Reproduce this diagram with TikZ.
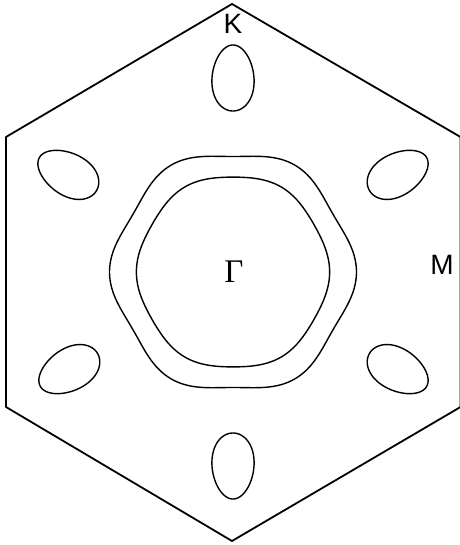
\documentclass[tikz,border=0pt]{standalone}
\usepackage{fontspec}
\newfontfamily\lsans{Liberation Sans}
\newfontfamily\lserif{Liberation Serif}
\begin{document}
\begin{tikzpicture}[x=1pt,y=-1pt,line join=round]
\tikzset{
  bz/.style={line width=1.8pt},
  fs/.style={line width=1.4pt},
  lbl/.style={inner sep=0pt,font=\lsans\fontsize{28}{28}\selectfont},
  glbl/.style={inner sep=0pt,font=\lserif\fontsize{33}{33}\selectfont}
}
\useasboundingbox (0,0) rectangle (459,545);
% Brillouin zone
\draw[bz] (232,4) -- (460.5,137) -- (460.5,407) -- (232,541) -- (6,407) -- (6,137) -- cycle;
% inner Fermi surface
\draw[fs] plot[domain=0:360,samples=240,smooth]
  ({233+0.985*(96.5+1.6*cos(6*\x))*cos(\x)},{272-(96.5+1.6*cos(6*\x))*sin(\x)}) -- cycle;
% outer Fermi surface
\draw[fs] plot[domain=0:360,samples=240,smooth]
  ({233+(119.5+4*cos(6*\x))*cos(\x)},{272-(119.5+4*cos(6*\x))*sin(\x)}) -- cycle;
% pockets
\foreach \cx/\cy/\ph in {233/78/90,233/466/-90,68/174/30,398/174/150,69/370/-30,398/370/210}{
  \draw[fs] plot[domain=0:360,samples=100,smooth]
    ({\cx+33*cos(\x)*cos(\ph)-21*(1+0.1*cos(\x))*sin(\x)*sin(\ph)},
     {\cy+33*cos(\x)*sin(\ph)+21*(1+0.1*cos(\x))*sin(\x)*cos(\ph)}) -- cycle;
}
\node[lbl] (K) at (233,24) {K};
\node[lbl] (M) at (442,265) {M};
\node[glbl] (G) at (234,272) {Γ};
\end{tikzpicture}
\end{document}
